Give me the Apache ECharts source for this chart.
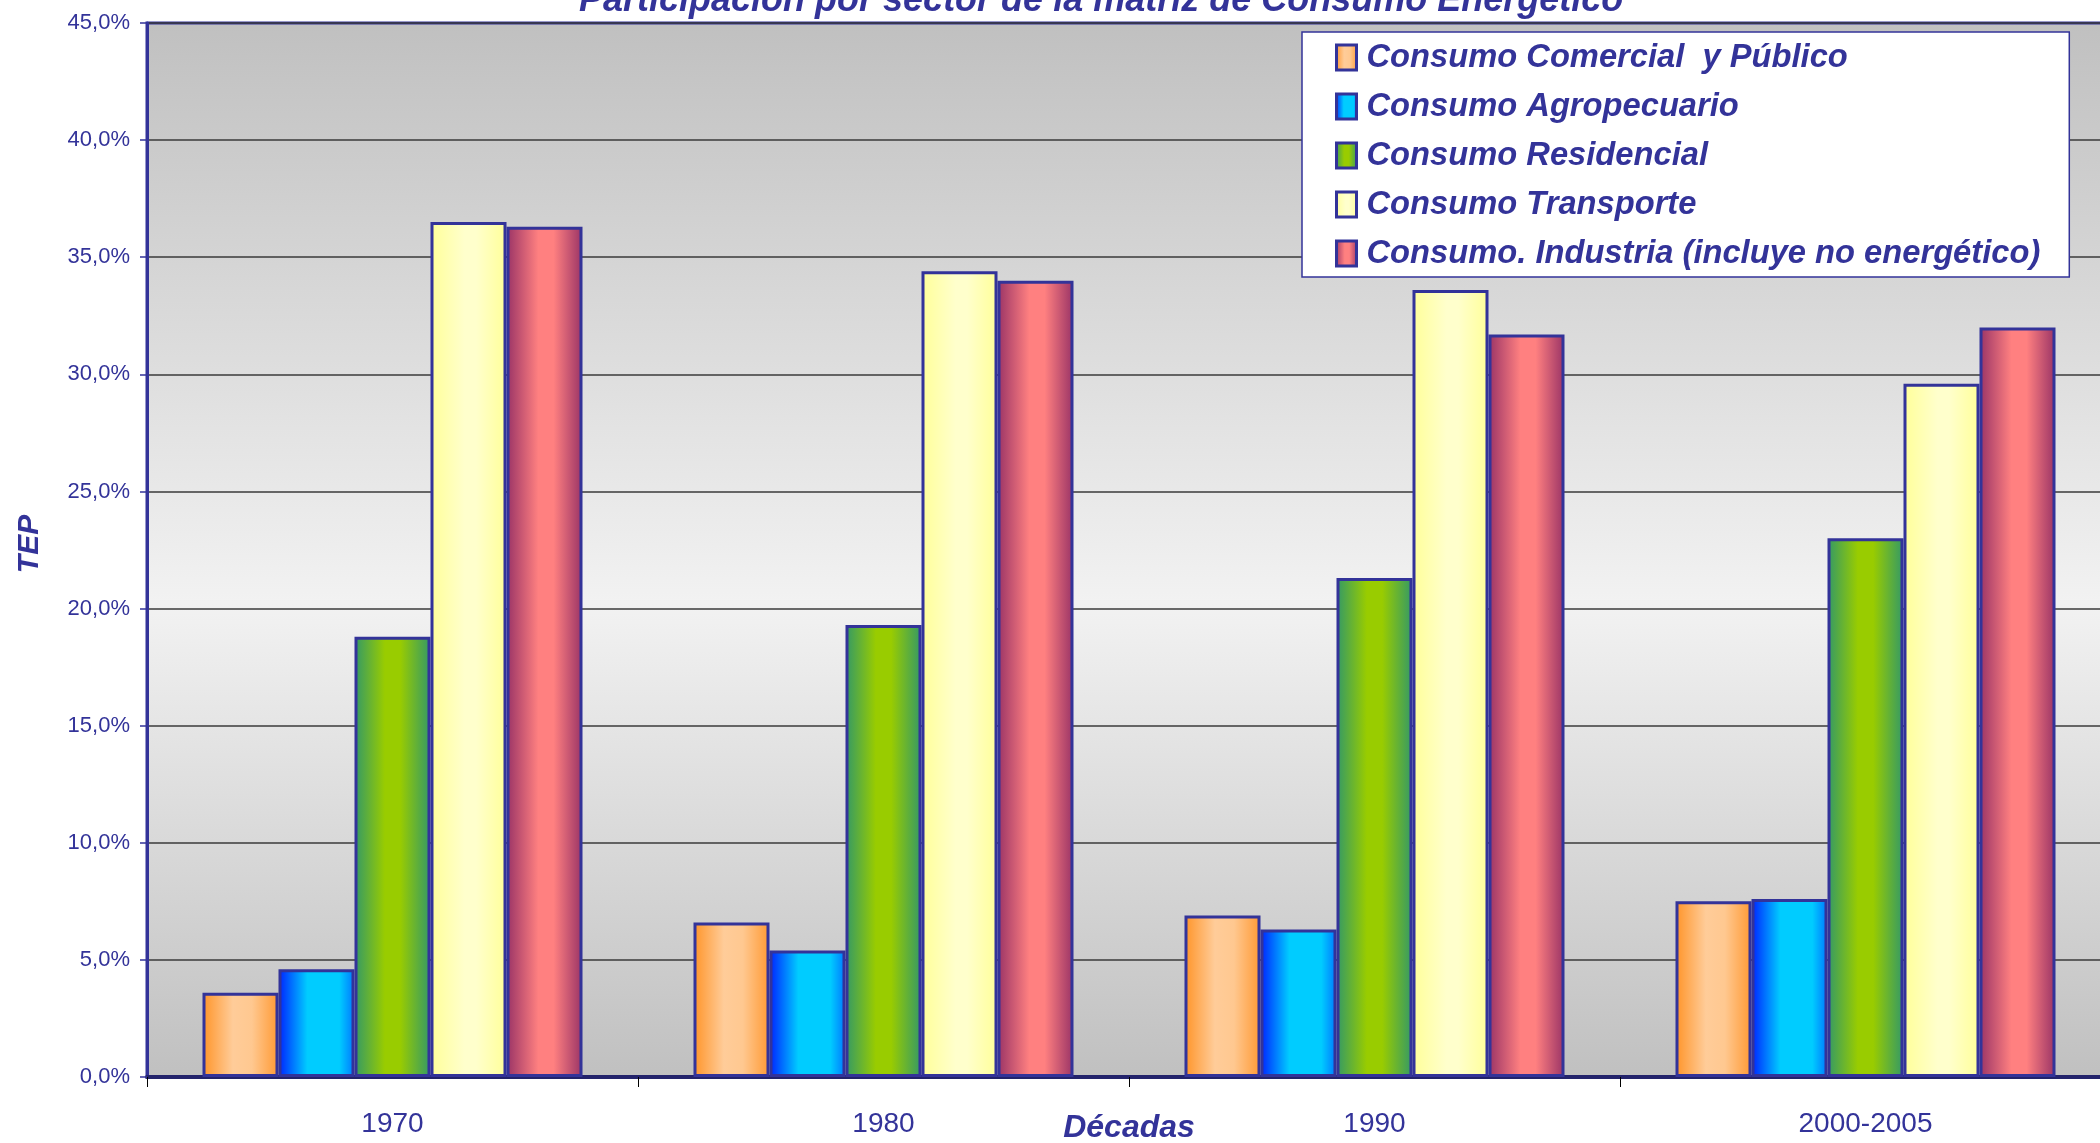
<!DOCTYPE html>
<html>
<head>
<meta charset="utf-8">
<script src="https://cdn.jsdelivr.net/npm/echarts@6/dist/echarts.min.js"></script>
<style>
html,body{margin:0;padding:0;background:#fff;}
#chart{width:2100px;height:1143px;}
</style>
</head>
<body>
<div id="chart"></div>
<script>
var categories = ['1970', '1980', '1990', '2000-2005'];
var seriesNames = [
  'Consumo Comercial  y Público',
  'Consumo Agropecuario',
  'Consumo Residencial',
  'Consumo Transporte',
  'Consumo. Industria (incluye no energético)'
];
var comercial = [3.6, 6.6, 6.9, 7.5];
var agropecuario = [4.6, 5.4, 6.3, 7.6];
var residencial = [18.8, 19.3, 21.3, 23.0];
var transporte = [36.5, 34.4, 33.6, 29.6];
var industria = [36.3, 34.0, 31.7, 32.0];
var seriesValues = [comercial, agropecuario, residencial, transporte, industria];

var titleText = 'Participación por sector de la matriz de Consumo Energético';
var xName = 'Décadas';
var yName = 'TEP';

var NAVY = '#333399';
var FONT = '"Liberation Sans", Arial, sans-serif';

function hgrad(stops) {
  return new echarts.graphic.LinearGradient(0, 0, 1, 0,
    stops.map(function (s) { return { offset: s[0], color: s[1] }; }));
}
var fills = [
  hgrad([[0, '#ff9428'], [0.4, '#ffcc99'], [0.65, '#ffc890'], [1, '#ff9933']]),
  hgrad([[0, '#0022ff'], [0.38, '#00ccff'], [0.8, '#00ccff'], [1, '#0077ff']]),
  hgrad([[0, '#339966'], [0.4, '#99cc00'], [0.6, '#99cc00'], [1, '#339966']]),
  hgrad([[0, '#ffff99'], [0.45, '#ffffcc'], [0.6, '#ffffcc'], [1, '#ffff99']]),
  hgrad([[0, '#993366'], [0.42, '#ff8080'], [0.62, '#ff8080'], [1, '#993366']])
];

var series = seriesNames.map(function (name, i) {
  return {
    name: name,
    type: 'bar',
    data: seriesValues[i],
    barWidth: 76,
    barGap: '0%',
    itemStyle: { color: fills[i], borderColor: NAVY, borderWidth: 3 },
    emphasis: { disabled: true }
  };
});

var chart = echarts.init(document.getElementById('chart'), null, { renderer: 'canvas' });
chart.setOption({
  animation: false,
  backgroundColor: '#ffffff',
  title: {
    text: titleText,
    left: 579,
    top: -17,
    padding: 0,
    textStyle: { color: NAVY, fontFamily: FONT, fontSize: 36, fontWeight: 'bold', fontStyle: 'italic' }
  },
  legend: {
    orient: 'vertical',
    left: 1302,
    top: 32,
    padding: [9, 29, 7, 33],
    itemGap: 16,
    itemWidth: 20,
    itemHeight: 25,
    backgroundColor: '#ffffff',
    borderColor: NAVY,
    borderWidth: 1.5,
    icon: 'rect',
    itemStyle: { borderColor: NAVY, borderWidth: 3 },
    textStyle: { color: NAVY, fontFamily: FONT, fontSize: 32.7, fontWeight: 'bold', fontStyle: 'italic', lineHeight: 33, padding: [0, 0, 0, 5] },
    data: seriesNames
  },
  grid: {
    left: 147, top: 23, width: 1964, height: 1054,
    containLabel: false,
    outerBoundsMode: 'none',
    show: true,
    borderColor: NAVY,
    borderWidth: 3,
    backgroundColor: new echarts.graphic.LinearGradient(0, 0, 0, 1, [
      { offset: 0, color: '#c0c0c0' },
      { offset: 0.55, color: '#f2f2f2' },
      { offset: 1, color: '#c0c0c0' }
    ])
  },
  xAxis: {
    type: 'category',
    data: categories,
    name: xName,
    nameLocation: 'middle',
    nameGap: 35,
    nameMoveOverlap: false,
    nameTextStyle: { color: NAVY, fontFamily: FONT, fontSize: 32, fontWeight: 'bold', fontStyle: 'italic' },
    axisLine: { show: true, lineStyle: { color: '#23236b', width: 4 } },
    axisTick: { show: true, length: 10, lineStyle: { color: '#000000', width: 1 } },
    axisLabel: { color: NAVY, fontFamily: FONT, fontSize: 28, margin: 33 },
    splitLine: { show: false }
  },
  yAxis: {
    type: 'value',
    min: 0, max: 45, interval: 5,
    name: yName,
    nameLocation: 'middle',
    nameGap: 102,
    nameRotate: 90,
    nameMoveOverlap: false,
    nameTextStyle: { color: NAVY, fontFamily: FONT, fontSize: 30, fontWeight: 'bold', fontStyle: 'italic', padding: [0, 0, 0, 12] },
    axisLine: { show: true, lineStyle: { color: NAVY, width: 3 } },
    axisTick: { show: true, length: 7, lineStyle: { color: NAVY, width: 1.5 } },
    axisLabel: {
      color: NAVY, fontFamily: FONT, fontSize: 22, margin: 17,
      formatter: function (v) { return v.toFixed(1).replace('.', ',') + '%'; }
    },
    splitLine: { show: true, lineStyle: { color: '#3a3a3a', width: 1.5 } }
  },
  series: series
});
</script>
</body>
</html>
